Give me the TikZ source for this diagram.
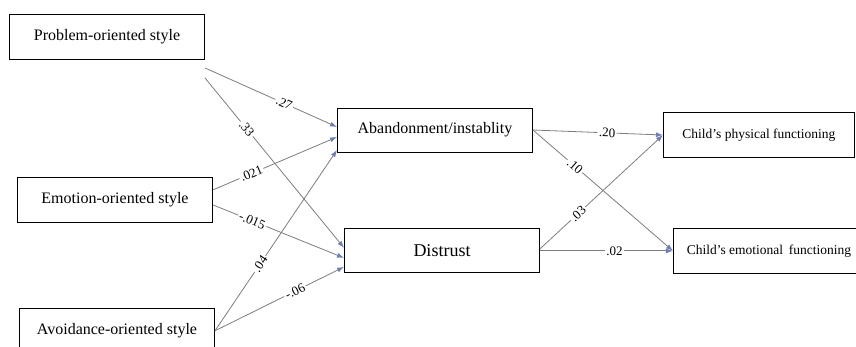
\documentclass[tikz,border=0pt]{standalone}
\usepackage{fontspec}
\setmainfont{Liberation Serif}
\usetikzlibrary{positioning,arrows.meta}
\definecolor{tipblue}{RGB}{110,125,178}
\definecolor{linegray}{RGB}{125,125,125}
\begin{document}
\begin{tikzpicture}[x=1pt,y=1pt,
    box/.style={draw,line width=0.9pt,minimum width=195pt,minimum height=45pt,inner sep=2pt},
    small/.style={box,minimum width=191pt,font=\fontsize{13.5}{15}\selectfont},
    arr/.style={draw=linegray,line width=0.8pt,-{Latex[length=7pt,width=5pt,color=tipblue]}},
    lbl/.style={fill=white,inner sep=1.5pt,sloped,font=\fontsize{13}{15}\selectfont}]
    \useasboundingbox (0,0) rectangle (856,-347);
    \node[box,font=\fontsize{16}{18}\selectfont] (prob) at (107,-37) {Problem-oriented style};
    \node[box,font=\fontsize{16}{18}\selectfont,below=117pt of prob,xshift=8pt] (emo) {Emotion-oriented style};
    \node[box,font=\fontsize{16}{18}\selectfont,below=85pt of emo,xshift=2pt] (avoid) {Avoidance-oriented style};
    \node[box,minimum height=44pt,font=\fontsize{16}{18}\selectfont] (aband) at (435,-130) {Abandonment/instablity};
    \node[box,minimum height=44pt,font=\fontsize{18}{20}\selectfont,below=76pt of aband,xshift=7pt] (dist) {Distrust};
    \node[small,right=130pt of aband,yshift=-5pt] (phys) {Child's physical functioning};
    \node[small,right=133pt of dist] (emof) {Child's emotional\, functioning};
    \draw[arr] ([yshift=-8pt]prob.south east) -- node[lbl,pos=0.6]{.27} ([yshift=3pt]aband.west);
    \draw[arr] ([yshift=-18pt]prob.south east) -- node[lbl,pos=0.3]{.33} ([yshift=3pt]dist.west);
    \draw[arr] ([yshift=10pt]emo.east) -- node[lbl,pos=0.31]{.021} ([yshift=-7pt]aband.west);
    \draw[arr] ([yshift=-5pt]emo.east) -- node[lbl,pos=0.3]{-.015} ([yshift=-7pt]dist.west);
    \draw[arr] (avoid.east) -- node[lbl,pos=0.37]{.04} ([yshift=-20pt]aband.west);
    \draw[arr] (avoid.east) -- node[lbl,pos=0.62]{-.06} ([yshift=-16pt]dist.west);
    \draw[arr] (aband.east) -- node[lbl,pos=0.57]{.20} (phys.west);
    \draw[arr] (aband.east) -- node[lbl,pos=0.3]{.10} (emof.west);
    \draw[arr] ([yshift=2pt]dist.east) -- node[lbl,pos=0.31]{.03} (phys.west);
    \draw[arr] (dist.east) -- node[lbl,pos=0.56]{.02} (emof.west);
\end{tikzpicture}
\end{document}
